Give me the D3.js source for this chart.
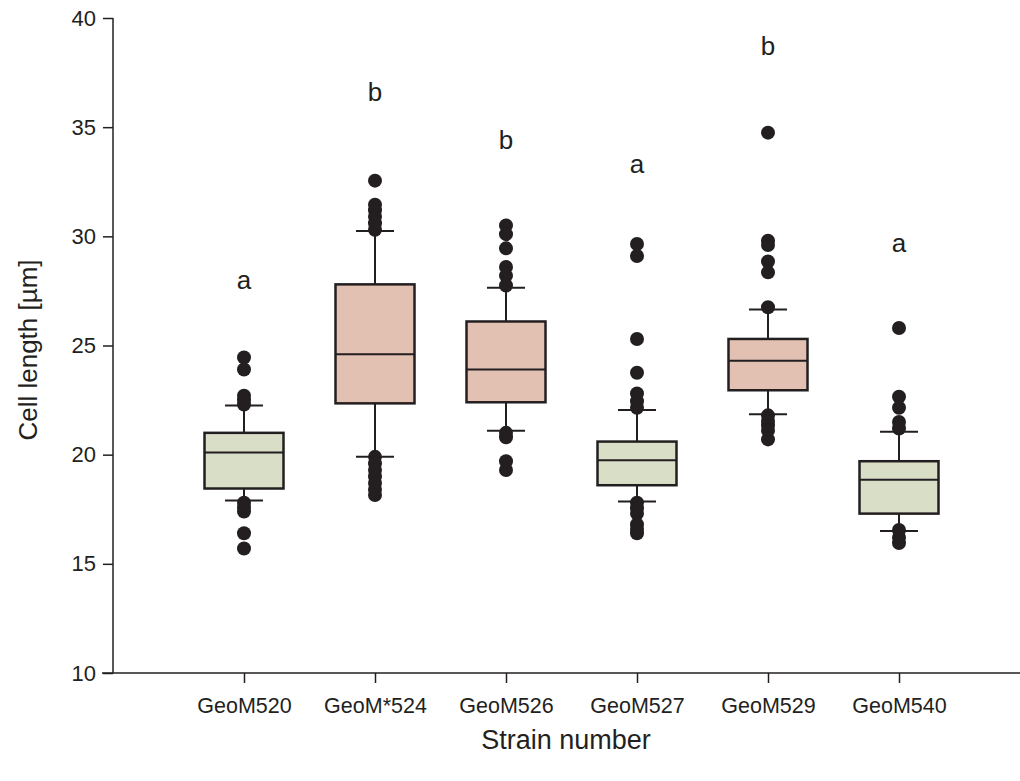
<!DOCTYPE html>
<html>
<head>
<meta charset="utf-8">
<script src="https://cdn.jsdelivr.net/npm/d3@7"></script>
<style>
  body { margin: 0; background: #fff; }
  svg { display: block; font-family: "Liberation Sans", Arial, Helvetica, sans-serif; }
</style>
</head>
<body>
<div id="chart"></div>
<script>
const strains = ['GeoM520', 'GeoM*524', 'GeoM526', 'GeoM527', 'GeoM529', 'GeoM540']
const q1 = [18.45, 22.35, 22.4, 18.6, 22.95, 17.3]
const medians = [20.1, 24.6, 23.9, 19.75, 24.3, 18.85]
const q3 = [21.0, 27.8, 26.1, 20.6, 25.3, 19.7]
const whiskerLow = [17.9, 19.9, 21.1, 17.85, 21.85, 16.5]
const whiskerHigh = [22.25, 30.25, 27.65, 22.05, 26.65, 21.05]
const outliers = [
  [24.45, 23.9, 22.7, 22.5, 22.3, 17.8, 17.6, 17.4, 16.4, 15.7],
  [32.55, 31.45, 31.2, 30.9, 30.6, 30.3, 19.9, 19.6, 19.3, 19.0, 18.7, 18.4, 18.15],
  [30.5, 30.1, 29.45, 28.6, 28.2, 27.75, 21.0, 20.8, 19.7, 19.3],
  [29.65, 29.1, 25.3, 23.75, 22.8, 22.45, 22.15, 17.8, 17.55, 17.3, 16.8, 16.6, 16.4],
  [34.75, 29.8, 29.6, 28.85, 28.35, 26.75, 21.8, 21.55, 21.35, 21.1, 20.7],
  [25.8, 22.65, 22.15, 21.5, 21.2, 16.55, 16.2, 15.95]
]
const letters = ['a', 'b', 'b', 'a', 'b', 'a']
const letterY = [28.0, 36.6, 34.4, 33.3, 38.7, 29.7]
const fills = ['#d9dec7', '#e2c1b2', '#e2c1b2', '#d9dec7', '#e2c1b2', '#d9dec7']
const yTicks = [10, 15, 20, 25, 30, 35, 40]

const W = 1020, H = 781
const ink = '#231f20'

const svg = d3.select('#chart').append('svg')
  .attr('width', W)
  .attr('height', H)

let x = d3.scalePoint().domain(strains).range([113, 1030]).padding(1)
let y = d3.scaleLinear().domain([10, 40]).range([673, 18])

const boxW = 79, capW = 38

// y axis
svg.append('g')
  .attr('transform', 'translate(113,0)')
  .call(d3.axisLeft(y).tickValues(yTicks).tickSize(10).tickPadding(7))
  .call(g => g.select('.domain').attr('stroke', ink).attr('stroke-width', 1.5).attr('d', `M0,${y(40)}V${y(10)}`))
  .call(g => g.selectAll('.tick line').attr('stroke', ink).attr('stroke-width', 1.5))
  .call(g => g.selectAll('.tick text').attr('fill', ink).attr('font-size', 22).attr('font-family', null))

// x axis
svg.append('g')
  .attr('transform', 'translate(0,673)')
  .call(d3.axisBottom(x).tickSize(10).tickPadding(15))
  .call(g => g.select('.domain').attr('stroke', ink).attr('stroke-width', 1.5).attr('d', 'M102,0H1020'))
  .call(g => g.selectAll('.tick line').attr('stroke', ink).attr('stroke-width', 1.5))
  .call(g => g.selectAll('.tick text').attr('fill', ink).attr('font-size', 21.5).attr('font-family', null))

const groups = svg.append('g').selectAll('g')
  .data(strains)
  .join('g')
  .attr('transform', d => `translate(${x(d)},0)`)

// whiskers
groups.append('line')
  .attr('y1', (d, i) => y(whiskerHigh[i])).attr('y2', (d, i) => y(q3[i]))
  .attr('stroke', ink).attr('stroke-width', 2)
groups.append('line')
  .attr('y1', (d, i) => y(q1[i])).attr('y2', (d, i) => y(whiskerLow[i]))
  .attr('stroke', ink).attr('stroke-width', 2)
groups.append('line')
  .attr('x1', -capW / 2).attr('x2', capW / 2)
  .attr('y1', (d, i) => y(whiskerHigh[i])).attr('y2', (d, i) => y(whiskerHigh[i]))
  .attr('stroke', ink).attr('stroke-width', 2)
groups.append('line')
  .attr('x1', -capW / 2).attr('x2', capW / 2)
  .attr('y1', (d, i) => y(whiskerLow[i])).attr('y2', (d, i) => y(whiskerLow[i]))
  .attr('stroke', ink).attr('stroke-width', 2)

// boxes
groups.append('rect')
  .attr('x', -boxW / 2).attr('width', boxW)
  .attr('y', (d, i) => y(q3[i]))
  .attr('height', (d, i) => y(q1[i]) - y(q3[i]))
  .attr('fill', (d, i) => fills[i])
  .attr('stroke', ink).attr('stroke-width', 2.5)
groups.append('line')
  .attr('x1', -boxW / 2).attr('x2', boxW / 2)
  .attr('y1', (d, i) => y(medians[i])).attr('y2', (d, i) => y(medians[i]))
  .attr('stroke', ink).attr('stroke-width', 2)

// outliers
groups.each(function (d, i) {
  d3.select(this).selectAll('circle')
    .data(outliers[i])
    .join('circle')
    .attr('cx', 0)
    .attr('cy', v => y(v))
    .attr('r', 7)
    .attr('fill', ink)
})

// significance letters
groups.append('text')
  .attr('y', (d, i) => y(letterY[i]))
  .attr('dy', '0.35em')
  .attr('text-anchor', 'middle')
  .attr('font-size', 26)
  .attr('fill', ink)
  .text((d, i) => letters[i])

// axis titles
svg.append('text')
  .attr('x', 566).attr('y', 749)
  .attr('text-anchor', 'middle')
  .attr('font-size', 27)
  .attr('fill', ink)
  .text('Strain number')

svg.append('text')
  .attr('transform', 'translate(37,350) rotate(-90)')
  .attr('text-anchor', 'middle')
  .attr('font-size', 26)
  .attr('fill', ink)
  .text('Cell length [µm]')
</script>
</body>
</html>
